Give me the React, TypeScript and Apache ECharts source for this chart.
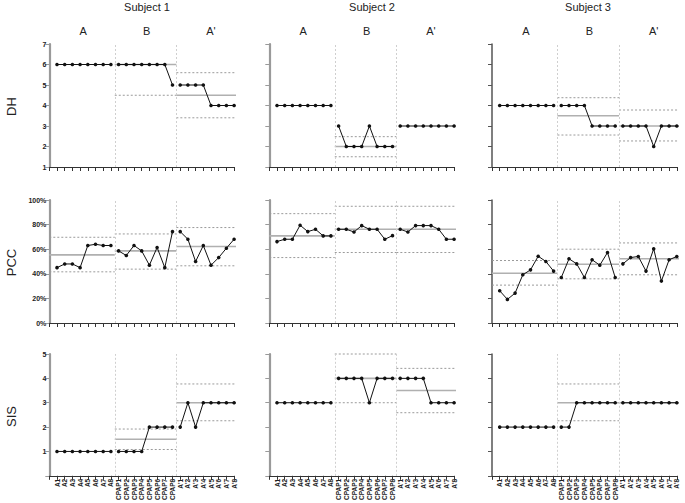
import React, { useEffect, useRef } from "react";
import * as echarts from "echarts";

const categories = [
  "A1", "A2", "A3", "A4", "A5", "A6", "A7", "A8",
  "CPAP1", "CPAP2", "CPAP3", "CPAP4", "CPAP5", "CPAP6", "CPAP7", "CPAP8",
  "A'1", "A'2", "A'3", "A'4", "A'5", "A'6", "A'7", "A'8",
];
const subjects = ["Subject 1", "Subject 2", "Subject 3"];
const phases = ["A", "B", "A'"];
const measures = ["DH", "PCC", "SIS"];

// Subject 1
const s1DH = [6, 6, 6, 6, 6, 6, 6, 6, 6, 6, 6, 6, 6, 6, 6, 5, 5, 5, 5, 5, 4, 4, 4, 4];
const s1PCC = [45, 48, 48, 45, 63, 64, 63, 63, 58.6, 54.9, 63, 58.6, 47, 61.4, 45, 74.3, 74.3, 68.1, 50, 63, 47, 53.2, 60.8, 68.1];
const s1SIS = [1, 1, 1, 1, 1, 1, 1, 1, 1, 1, 1, 1, 2, 2, 2, 2, 2, 3, 2, 3, 3, 3, 3, 3];
// Subject 2
const s2DH = [4, 4, 4, 4, 4, 4, 4, 4, 3, 2, 2, 2, 3, 2, 2, 2, 3, 3, 3, 3, 3, 3, 3, 3];
const s2PCC = [66.2, 68.1, 68.1, 79.5, 74.3, 76.2, 70.8, 70.8, 76.2, 76.2, 74, 79.2, 76.2, 76.2, 68.1, 71, 76.2, 74, 79.2, 79.2, 79.2, 76.2, 68.1, 68.1];
const s2SIS = [3, 3, 3, 3, 3, 3, 3, 3, 4, 4, 4, 4, 3, 4, 4, 4, 4, 4, 4, 4, 3, 3, 3, 3];
// Subject 3
const s3DH = [4, 4, 4, 4, 4, 4, 4, 4, 4, 4, 4, 4, 3, 3, 3, 3, 3, 3, 3, 3, 2, 3, 3, 3];
const s3PCC = [26.2, 19.2, 24.3, 39.2, 43.2, 54.3, 50, 42.2, 37, 52.2, 48.1, 37, 51.4, 47, 57.3, 37, 48.1, 53.2, 54.1, 42.2, 60.3, 34.1, 51.4, 54.1];
const s3SIS = [2, 2, 2, 2, 2, 2, 2, 2, 2, 2, 3, 3, 3, 3, 3, 3, 3, 3, 3, 3, 3, 3, 3, 3];

// Phase level lines (per phase A, B, A'): centre line, upper band, lower band
const s1DHMean = [null, 6.0, 4.5];
const s1DHHi = [null, null, 5.6];
const s1DHLo = [null, 4.5, 3.4];
const s1PCCMean = [55.4, 58.6, 62.2];
const s1PCCHi = [69.7, 72.4, 77.6];
const s1PCCLo = [41.6, 43.8, 46.5];
const s1SISMean = [null, 1.5, 3.0];
const s1SISHi = [null, 1.92, 3.77];
const s1SISLo = [null, 1.08, 2.26];

const s2DHMean = [null, 2.0, null];
const s2DHHi = [null, 2.48, null];
const s2DHLo = [null, 1.5, null];
const s2PCCMean = [70.8, 76.2, 76.2];
const s2PCCHi = [88.9, 94.9, 94.9];
const s2PCCLo = [53.2, 57.3, 57.3];
const s2SISMean = [null, 4.0, 3.5];
const s2SISHi = [null, 5.0, 4.41];
const s2SISLo = [null, 3.0, 2.59];

const s3DHMean = [null, 3.5, 3.0];
const s3DHHi = [null, 4.38, 3.78];
const s3DHLo = [null, 2.56, 2.27];
const s3PCCMean = [40.5, 47.8, 52.2];
const s3PCCHi = [50.8, 60, 65.1];
const s3PCCLo = [30.8, 35.9, 39.2];
const s3SISMean = [null, 3.0, 3.0];
const s3SISHi = [null, 3.77, null];
const s3SISLo = [null, 2.26, null];

const FONT = "'Liberation Sans', Arial, Helvetica, sans-serif";

const panelData = [
  [
    [s1DH, s1DHMean, s1DHHi, s1DHLo],
    [s1PCC, s1PCCMean, s1PCCHi, s1PCCLo],
    [s1SIS, s1SISMean, s1SISHi, s1SISLo],
  ],
  [
    [s2DH, s2DHMean, s2DHHi, s2DHLo],
    [s2PCC, s2PCCMean, s2PCCHi, s2PCCLo],
    [s2SIS, s2SISMean, s2SISHi, s2SISLo],
  ],
  [
    [s3DH, s3DHMean, s3DHHi, s3DHLo],
    [s3PCC, s3PCCMean, s3PCCHi, s3PCCLo],
    [s3SIS, s3SISMean, s3SISHi, s3SISLo],
  ],
];

const colLeft = [49.3, 269.3, 492];
const gridW = 184.8;
const rowTop = [44, 200, 354];
const gridH = 123;
const phaseEdges = [0, 8.5, 16.5, 24.75];
const phaseLabelPos = [4.4, 12.65, 21];

const yCfg = [
  { min: 1, max: 7, interval: 1, fmt: (v: number) => String(v) },
  { min: 0, max: 100, interval: 20, fmt: (v: number) => v + "%" },
  { min: 0, max: 5, interval: 1, fmt: (v: number) => (v === 0 ? "" : String(v)) },
];

function levelData(vals: (number | null)[]) {
  const out: any[] = [];
  for (let p = 0; p < 3; p++) {
    const v = vals[p];
    if (v == null) continue;
    out.push([phaseEdges[p], v], [phaseEdges[p + 1], v], [phaseEdges[p + 1], "-"]);
  }
  return out;
}

function pointData(vals: number[]) {
  const out: any[] = [];
  vals.forEach((v, i) => {
    out.push([i + 1, v]);
    if (i === 7 || i === 15) out.push([i + 1.5, "-"]);
  });
  return out;
}

export default function App() {
  const ref = useRef<HTMLDivElement>(null);
  useEffect(() => {
    if (!ref.current) return;
    const chart = echarts.init(ref.current, undefined, { renderer: "svg" });
    const grid: any[] = [];
    const xAxis: any[] = [];
    const yAxis: any[] = [];
    const series: any[] = [];
    const graphic: any[] = [];
    let idx = 0;
    for (let c = 0; c < 3; c++) {
      for (let r = 0; r < 3; r++) {
        grid.push({ left: colLeft[c], top: rowTop[r], width: gridW, height: gridH, containLabel: false });
        const yAxisColor = c === 2 ? "#555" : "#9a9a9a";
        xAxis.push({
          type: "value",
          gridIndex: idx,
          min: 0,
          max: 24,
          interval: 1,
          splitLine: { show: false },
          axisLine: { show: true, onZero: false, lineStyle: { color: "#333", width: 1.2 } },
          axisTick: { show: true, length: 4, lineStyle: { color: "#333", width: 1 } },
          axisLabel: {
            show: r === 2,
            rotate: 90,
            fontSize: 6.5,
            fontWeight: "bold",
            fontFamily: FONT,
            color: "#222",
            margin: 3,
            showMinLabel: true,
            showMaxLabel: true,
            formatter: (v: number) => (v >= 1 && v <= 24 && Number.isInteger(v) ? categories[v - 1] : ""),
          },
        });
        yAxis.push({
          type: "value",
          gridIndex: idx,
          min: yCfg[r].min,
          max: yCfg[r].max,
          interval: yCfg[r].interval,
          splitLine: { show: false },
          axisLine: { show: true, onZero: false, lineStyle: { color: yAxisColor, width: c === 2 ? 1.5 : 2.2 } },
          axisTick: { show: true, length: 4, lineStyle: { color: yAxisColor, width: 1 } },
          axisLabel: {
            show: c === 0,
            fontSize: 7,
            fontWeight: "bold",
            fontFamily: FONT,
            color: "#222",
            margin: 3,
            formatter: yCfg[r].fmt,
          },
        });
        const [vals, mean, hi, lo] = panelData[c][r] as any;
        series.push({
          type: "line",
          xAxisIndex: idx,
          yAxisIndex: idx,
          data: levelData(hi),
          symbol: "none",
          clip: false,
          connectNulls: false,
          silent: true,
          z: 1,
          lineStyle: { color: "#9a9a9a", width: 1, type: [2, 2] },
        });
        series.push({
          type: "line",
          xAxisIndex: idx,
          yAxisIndex: idx,
          data: levelData(lo),
          symbol: "none",
          clip: false,
          connectNulls: false,
          silent: true,
          z: 1,
          lineStyle: { color: "#9a9a9a", width: 1, type: [2, 2] },
        });
        series.push({
          type: "line",
          xAxisIndex: idx,
          yAxisIndex: idx,
          data: levelData(mean),
          symbol: "none",
          clip: false,
          connectNulls: false,
          silent: true,
          z: 2,
          lineStyle: { color: "#b0b0b0", width: 1.6 },
        });
        series.push({
          type: "line",
          xAxisIndex: idx,
          yAxisIndex: idx,
          data: pointData(vals),
          symbol: "circle",
          symbolSize: 3.6,
          connectNulls: false,
          clip: false,
          z: 5,
          itemStyle: { color: "#111" },
          lineStyle: { color: "#111", width: 1 },
          markLine: {
            silent: true,
            symbol: "none",
            label: { show: false },
            lineStyle: { color: "#cfcfcf", width: 1, type: [2, 2] },
            data: [{ xAxis: 8.5 }, { xAxis: 16.5 }],
          },
        });
        idx++;
      }
    }
    const titleX = [147, 372, 588];
    const step = gridW / 24;
    for (let c = 0; c < 3; c++) {
      graphic.push({
        type: "text",
        x: titleX[c],
        y: 7,
        style: { text: subjects[c], font: `11px ${FONT}`, fill: "#222", textAlign: "center", textVerticalAlign: "middle" },
      });
      for (let p = 0; p < 3; p++) {
        graphic.push({
          type: "text",
          x: colLeft[c] + phaseLabelPos[p] * step,
          y: 31,
          style: { text: phases[p], font: `11px ${FONT}`, fill: "#222", textAlign: "center", textVerticalAlign: "middle" },
        });
      }
    }
    for (let r = 0; r < 3; r++) {
      graphic.push({
        type: "text",
        x: 11,
        y: rowTop[r] + gridH / 2 + 1,
        rotation: Math.PI / 2,
        style: { text: measures[r], font: `13px ${FONT}`, fill: "#222", textAlign: "center", textVerticalAlign: "middle" },
      });
    }
    chart.setOption({
      animation: false,
      backgroundColor: "#fff",
      grid,
      xAxis,
      yAxis,
      series,
      graphic,
    });
    return () => chart.dispose();
  }, []);
  return <div ref={ref} style={{ position: "fixed", left: 0, top: 0, width: 685, height: 503 }} />;
}
